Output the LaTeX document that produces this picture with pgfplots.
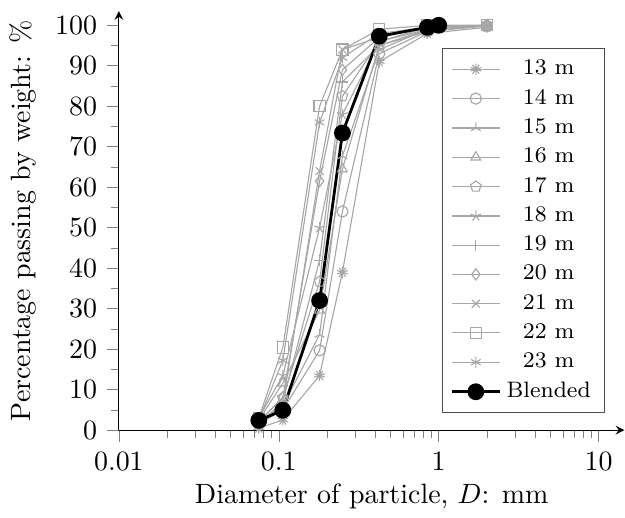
\documentclass[border=0pt]{standalone}
\usepackage{pgfplots}
\pgfplotsset{compat=1.18}
\usepackage{pgfplotstable}
\usetikzlibrary{plotmarks}

\pgfplotstableread{
d     s13  s14  s15  s16  s17  s18  s19  s20  s21  s22  s23
0.075 0.5  1.5  2.0  2.5  2.0  3.0  1.5  2.0  1.0  3.0  2.5
0.106 2.5  5.0  6.0  11.6 8.0  13.5 7.0  8.1  6.4  20.4 17.2
0.18  13.5 19.7 23.6 29.6 36.7 50.0 42.0 61.5 64.0 80.0 76.0
0.25  39.0 54.0 67.7 64.5 82.5 78.0 86.0 89.0 94.0 94.0 92.0
0.425 91.0 93.0 94.0 95.0 96.0 96.0 95.0 97.0 97.0 99.0 98.0
0.85  98.0 98.5 99.0 98.5 99.0 99.5 99.0 99.5 99.5 100  99.5
2.0   99.5 99.8 100  100  100  100  100  100  100  100  100
}\sieve

\begin{document}
\begin{tikzpicture}
\begin{axis}[
  scale only axis, width=181pt, height=150pt,
  xmode=log, xmin=0.01, xmax=14.5, ymin=0, ymax=103.5,
  axis lines=left,
  tick align=outside,
  tick style={gray},
  xtick={0.01,0.1,1,10},
  xticklabels={0.01,0.1,1,10},
  ytick={0,10,...,100},
  minor ytick={5,15,...,95},
  xlabel={Diameter of particle, $D$: mm},
  xlabel style={yshift=2.5pt},
  ylabel={Percentage passing by weight: \%},
  legend style={at={(rel axis cs:0.962,0.912)}, anchor=north east,
    font=\footnotesize, cells={anchor=center}, draw=black!70,
    row sep=-0.35pt},
]
\pgfplotsset{grey/.style={gray!70, thin, mark size=2pt, mark options={solid}}}
\addplot[grey, mark=10-pointed star] table[x=d, y=s13] {\sieve};
\addlegendentry{13 m}
\addplot[grey, mark=o] table[x=d, y=s14] {\sieve};
\addlegendentry{14 m}
\addplot[grey, mark=Mercedes star] table[x=d, y=s15] {\sieve};
\addlegendentry{15 m}
\addplot[grey, mark=triangle] table[x=d, y=s16] {\sieve};
\addlegendentry{16 m}
\addplot[grey, mark=pentagon] table[x=d, y=s17] {\sieve};
\addlegendentry{17 m}
\addplot[grey, mark=star] table[x=d, y=s18] {\sieve};
\addlegendentry{18 m}
\addplot[grey, mark=+] table[x=d, y=s19] {\sieve};
\addlegendentry{19 m}
\addplot[grey, mark=diamond] table[x=d, y=s20] {\sieve};
\addlegendentry{20 m}
\addplot[grey, mark=x] table[x=d, y=s21] {\sieve};
\addlegendentry{21 m}
\addplot[grey, mark=square] table[x=d, y=s22] {\sieve};
\addlegendentry{22 m}
\addplot[grey, mark=asterisk] table[x=d, y=s23] {\sieve};
\addlegendentry{23 m}
\addplot[black, line width=1pt, mark=*, mark size=2.5pt] coordinates {
  (0.075,2.4) (0.106,4.9) (0.18,32) (0.25,73.4) (0.425,97.3) (0.85,99.5) (1.0,100)};
\addlegendentry{Blended}
\end{axis}
\path (current bounding box.north) ++(0,2.5pt) coordinate (topgap);
\end{tikzpicture}
\end{document}
